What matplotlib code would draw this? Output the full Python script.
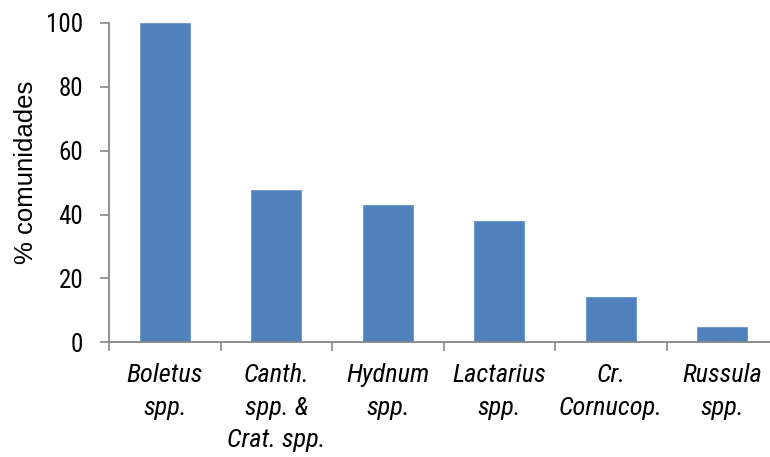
import matplotlib
matplotlib.use("Agg")
import matplotlib.pyplot as plt
import numpy as np

CATEGORIES = [
    "Boletus\nspp.",
    "Canth.\nspp. &\nCrat. spp.",
    "Hydnum\nspp.",
    "Lactarius\nspp.",
    "Cr.\nCornucop.",
    "Russula\nspp.",
]
PCT_COMMUNITIES = [100.0, 47.6, 42.9, 38.1, 14.3, 4.8]
Y_TICKS = [0, 20, 40, 60, 80, 100]

BAR_COLOR = "#4F81BD"
AXIS_COLOR = "#868686"
FONT = ["Roboto Condensed", "Archivo Narrow", "DejaVu Sans"]

plt.rcParams["font.family"] = FONT

fig = plt.figure(figsize=(7.7, 4.57), dpi=100)
ax = fig.add_axes([0.1416, 0.251, 0.869, 0.699])

x = np.arange(len(CATEGORIES))
ax.bar(x, PCT_COMMUNITIES, width=0.45, color=BAR_COLOR, edgecolor="#6A96CC", linewidth=0.6)

ax.set_xlim(-0.5, len(CATEGORIES) - 0.5)
ax.set_ylim(0, 100)
ax.set_yticks(Y_TICKS)

# category boundaries carry the tick marks, labels sit at the centres
ax.set_xticks(np.arange(len(CATEGORIES) + 1) - 0.5)
ax.set_xticklabels([])
ax.set_xticks(x, minor=True)
ax.set_xticklabels(CATEGORIES, minor=True, fontstyle="italic", fontsize=19,
                   linespacing=1.45)
ax.tick_params(axis="x", which="minor", length=0, pad=15)
ax.tick_params(axis="x", which="major", length=6.5, width=1.2, color=AXIS_COLOR, direction="out")
ax.tick_params(axis="y", length=6.5, width=1.2, color=AXIS_COLOR, direction="out",
               labelsize=18, pad=12)

for side in ["top", "right"]:
    ax.spines[side].set_visible(False)
for side in ["left", "bottom"]:
    ax.spines[side].set_color(AXIS_COLOR)
    ax.spines[side].set_linewidth(1.3)

fig.text(26 / 770, 1 - 172 / 457, "% comunidades", rotation=90, ha="center", va="center",
         fontsize=18.5, family=["Liberation Sans", "DejaVu Sans"])

fig.savefig("out.png", dpi=100)
